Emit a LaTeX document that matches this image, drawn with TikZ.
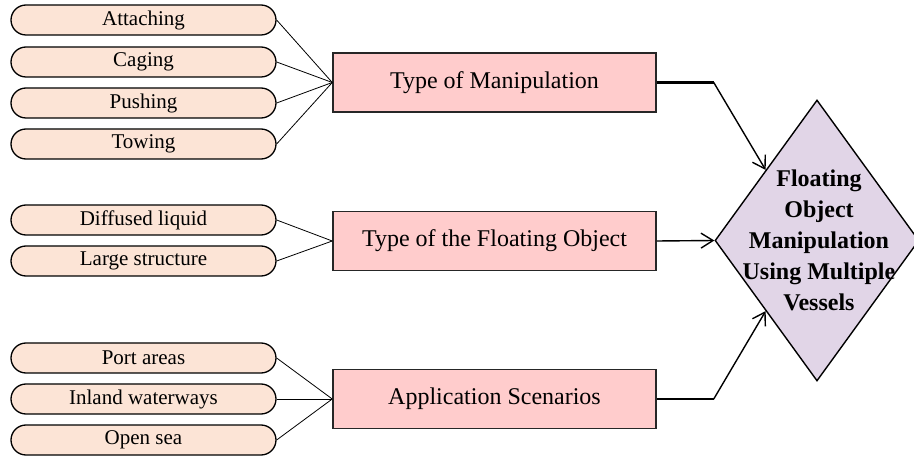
\documentclass[tikz,border=0pt]{standalone}
\usepackage{fontspec}
\setmainfont{Liberation Serif}
\usetikzlibrary{shapes.geometric,arrows.meta}

\definecolor{leaffill}{HTML}{FCE4D6}
\definecolor{branchfill}{HTML}{FFCCCC}
\definecolor{goalfill}{HTML}{E1D5E7}

\begin{document}
\begin{tikzpicture}[x=1pt,y=-1pt,
  leaf/.style={draw,line width=1.3pt,fill=leaffill,rounded corners=15pt,
    minimum width=265pt,minimum height=30pt,inner sep=0pt,
    font=\fontsize{21}{25}\selectfont},
  branch/.style={draw=black!85,line width=1.5pt,fill=branchfill,
    minimum width=323pt,minimum height=59pt,inner sep=0pt,
    font=\fontsize{24}{28}\selectfont},
  twig/.style={line width=0.8pt},
  link/.style={line width=1.4pt,-{Straight Barb[length=12pt,width=15pt]}}]

\useasboundingbox (0,0) rectangle (914,457);

% leaves on the left
\node[leaf] (attach) at (143.5,20)  {Attaching};
\node[leaf] (cage)   at (143.5,62)  {Caging};
\node[leaf] (push)   at (143.5,103) {Pushing};
\node[leaf] (tow)    at (143.5,144) {Towing};

\node[leaf] (liquid) at (143.5,220) {Diffused liquid};
\node[leaf] (struct) at (143.5,261) {Large structure};

\node[leaf] (port)   at (143.5,358) {Port areas};
\node[leaf] (inland) at (143.5,399) {Inland waterways};
\node[leaf] (sea)    at (143.5,440) {Open sea};

% middle boxes
\node[branch] (manip)  at (494.5,82.5) {Type of Manipulation};
\node[branch] (object) at (494.5,241)  {Type of the Floating Object};
\node[branch] (scene)  at (494.5,399)  {Application Scenarios};

% the goal
\node[diamond,draw,line width=1.4pt,fill=goalfill,inner sep=0pt,
      minimum width=204pt,minimum height=281pt] (goal) at (817,240.5) {};
\node[font=\fontsize{24}{31}\selectfont\bfseries,align=center]
      at ([xshift=2pt]goal.center)
      {Floating\\Object\\Manipulation\\Using Multiple\\Vessels};

\draw[twig] (attach.east) -- (manip.west);
\draw[twig] (cage.east) -- (manip.west);
\draw[twig] (push.east) -- (manip.west);
\draw[twig] (tow.east) -- (manip.west);

\draw[twig] (liquid.east) -- (object.west);
\draw[twig] (struct.east) -- (object.west);

\draw[twig] (port.east) -- (scene.west);
\draw[twig] (inland.east) -- (scene.west);
\draw[twig] (sea.east) -- (scene.west);

% connectors to the goal
\coordinate (bendtop) at ([xshift=57pt]manip.east);
\coordinate (bendlow) at ([xshift=57pt]scene.east);

\draw[line width=2.8pt] (manip.east) -- (bendtop);
\draw[link] (bendtop) -- (goal.north west);

\draw[link] (object.east) -- (goal.west);

\draw[line width=2.8pt] (scene.east) -- (bendlow);
\draw[link] (bendlow) -- (goal.south west);

\end{tikzpicture}
\end{document}
